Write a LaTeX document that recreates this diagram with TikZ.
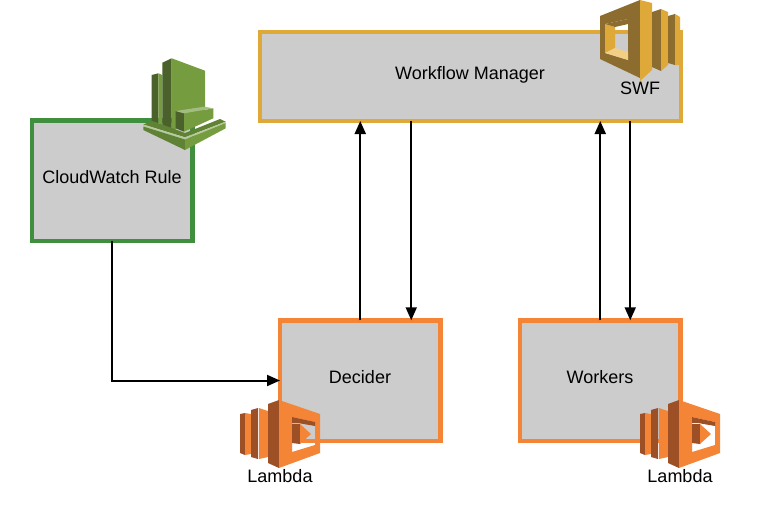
\documentclass[tikz,border=0pt]{standalone}
\usepackage{fontspec}
\setmainfont{Liberation Sans}
\usetikzlibrary{arrows.meta}
\definecolor{swfgold}{HTML}{DFA939}
\definecolor{swfdark}{HTML}{8C6D2F}
\definecolor{swflight}{HTML}{F2CF85}
\definecolor{lamorange}{HTML}{F58536}
\definecolor{lamdark}{HTML}{9D5025}
\definecolor{cwgreen}{HTML}{3F8F3F}
\definecolor{cwlight}{HTML}{759C3E}
\definecolor{cwmid}{HTML}{5F8234}
\definecolor{cwdark}{HTML}{4B612C}
\definecolor{cwpale}{HTML}{B7CA9D}
\tikzset{
  box/.style={draw,line width=4.5pt,fill=black!20,outer sep=0pt},
  caption/.style={font=\fontsize{18}{20}\selectfont},
  flow/.style={line width=2pt,-{Triangle[length=13pt,width=11pt]}}
}
\newcommand{\lambdaicon}[1]{
  \begin{scope}[xshift=#1]
    \fill[lamdark] (240,414) -- (245,413) -- (245,455) -- (240,453) -- cycle;
    \fill[lamorange] (245,413) -- (251,414) -- (251,454) -- (245,455) -- cycle;
    \fill[lamdark] (251,410) -- (258,408) -- (258,459) -- (251,457) -- cycle;
    \fill[lamorange] (259,408) -- (268,411) -- (268,457) -- (259,459) -- cycle;
    \fill[lamdark] (268,404) -- (279,400) -- (279,468) -- (268,463) -- cycle;
    \fill[lamorange,even odd rule] (279,400) -- (320,414) -- (320,453) -- (279,468) -- cycle
      (292,417) -- (315,422) -- (315,445) -- (292,452) -- cycle;
    \fill[lamdark] (292,417) -- (315,422) -- (315,426) -- (298,423) -- (292,423) -- cycle;
    \fill[lamdark] (292,424) -- (300,424) -- (300,444) -- (292,443) -- cycle;
    \fill[lamorange] (300,424) -- (311,434) -- (300,444) -- cycle;
  \end{scope}
}
\begin{document}
\begin{tikzpicture}[x=1pt,y=-1pt]
  \useasboundingbox (0,0) rectangle (760,528);
  % boxes
  \node[box,draw=swfgold,minimum width=421pt,minimum height=89pt] (manager) at (470.5,76.5) {};
  \node[box,draw=cwgreen,minimum width=160.5pt,minimum height=120.5pt] (rule) at (112.25,180.5) {};
  \node[box,draw=lamorange,minimum width=160.5pt,minimum height=120.5pt] (decider) at (360.25,380.5) {};
  \node[box,draw=lamorange,minimum width=160.5pt,minimum height=120.5pt] (workers) at (600.25,380.5) {};
  \node[caption] (managerlabel) at (470,74.5) {Workflow Manager};
  \node[caption] (rulelabel) at (112,177.5) {CloudWatch Rule};
  \node[caption] (deciderlabel) at (360,377.5) {Decider};
  \node[caption] (workerslabel) at (600,377.5) {Workers};
  % connectors
  \draw[flow] (rule.south) |- (decider.west);
  \draw[flow] (decider.north) -- (decider.north |- manager.south);
  \draw[flow] ([xshift=51pt]decider.north |- manager.south) -- ([xshift=51pt]decider.north);
  \draw[flow] (workers.north) -- (workers.north |- manager.south);
  \draw[flow] ([xshift=30pt]workers.north |- manager.south) -- ([xshift=30pt]workers.north);
  % swf icon
  \fill[swfdark,even odd rule] (600,16) -- (640,0) -- (640,78) -- (600,59) -- cycle
    (605,24) -- (628,19) -- (628,60) -- (605,53) -- cycle;
  \fill[swfgold] (605,24) -- (615,27) -- (615,48) -- (605,53) -- cycle;
  \fill[swfdark] (605,24) -- (628,19) -- (628,24) -- (615,27) -- cycle;
  \fill[swflight] (605,53) -- (615,48) -- (628,52) -- (628,60) -- cycle;
  \fill[swfgold] (640,0) -- (652,3) -- (652,70) -- (640,81) -- cycle;
  \fill[swfdark] (652,12) -- (661,9) -- (661,71) -- (652,67) -- cycle;
  \fill[swfgold] (661,9) -- (668,12) -- (668,65) -- (661,71) -- cycle;
  \fill[swfdark] (668,16) -- (675,14) -- (675,65) -- (668,63) -- cycle;
  \fill[swfgold] (675,14) -- (680,17) -- (680,65) -- (675,65) -- cycle;
  \node[caption] (swflabel) at (640,88.5) {SWF};
  % cloudwatch icon
  \fill[cwdark] (151.7,75) -- (158.3,73.3) -- (158.3,123) -- (151.7,121.7) -- cycle;
  \fill[cwlight] (158.3,73.3) -- (162.3,75) -- (162.3,125) -- (158.3,123) -- cycle;
  \fill[cwdark] (162.3,62.7) -- (171.7,58.3) -- (171.7,131.7) -- (162.3,126.7) -- cycle;
  \fill[cwlight] (171.7,58.3) -- (205,70.7) -- (205,108) -- (171.7,131.7) -- cycle;
  \fill[cwmid] (143.3,124.5) -- (152,121) -- (172,128) -- (185,133) -- (220,119) -- (225.7,121.7) -- (185,137.3) -- cycle;
  \fill[cwpale] (143.3,124.5) -- (185,137.3) -- (225.7,121.7) -- (225.7,123) -- (185,139.5) -- (143.3,126.5) -- cycle;
  \fill[cwmid] (143.3,126.5) -- (185,139.5) -- (185,150) -- (143.3,130) -- cycle;
  \fill[cwlight] (185,139.5) -- (225.7,123) -- (225.7,128.3) -- (185,150) -- cycle;
  \fill[cwdark] (175.7,111) -- (184,113.3) -- (184,131.7) -- (175.7,128.3) -- cycle;
  \fill[cwlight] (184,113.3) -- (213.3,108.3) -- (213.3,118.3) -- (184,131.7) -- cycle;
  \fill[cwpale!70!cwlight] (175.7,111) -- (204,106.7) -- (213.3,108.3) -- (184,113.3) -- cycle;
  % lambda icons
  \lambdaicon{0pt}
  \lambdaicon{400pt}
  \node[caption] (lambdaone) at (280,476.5) {Lambda};
  \node[caption] (lambdatwo) at (680,476.5) {Lambda};
\end{tikzpicture}
\end{document}
